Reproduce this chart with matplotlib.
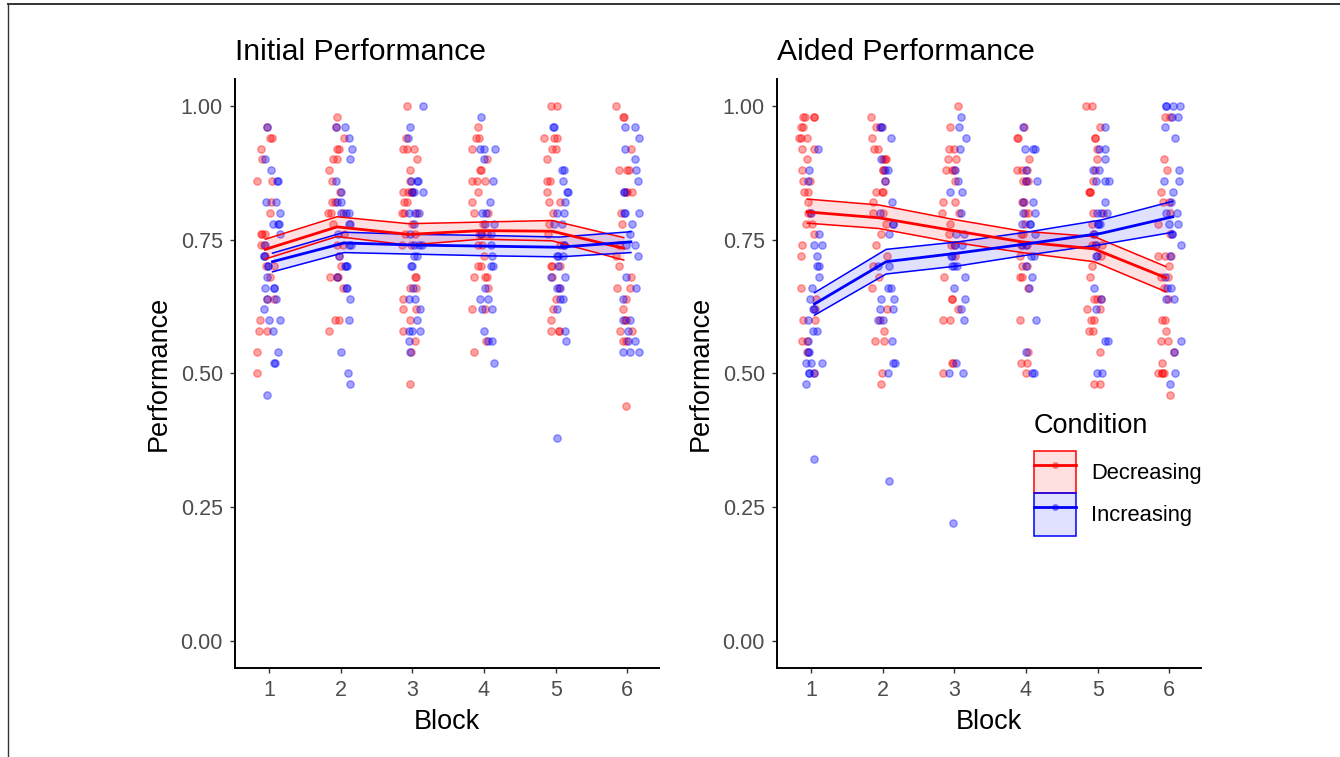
import numpy as np
import matplotlib
matplotlib.use('Agg')
import matplotlib.pyplot as plt
from matplotlib.patches import Patch
from matplotlib.lines import Line2D
from matplotlib.legend_handler import HandlerTuple

plt.rcParams['font.family'] = ['Liberation Sans', 'DejaVu Sans']

blocks = [1, 2, 3, 4, 5, 6]
conditions = ['Decreasing', 'Increasing']
colors = {'Decreasing': '#FF0000', 'Increasing': '#0000FF'}

# individual scores per block
init_dec = [
    [.96, .94, .94, .92, .90, .86, .86, .82, .80, .76, .76, .76, .74, .74, .72, .70, .70, .68, .64, .64, .60, .58, .58, .54, .50],
    [.98, .96, .94, .92, .92, .90, .90, .88, .86, .84, .82, .82, .80, .80, .80, .78, .76, .74, .74, .72, .70, .68, .68, .68, .66, .60, .60, .58],
    [1.0, .94, .92, .92, .92, .90, .88, .86, .84, .84, .84, .84, .82, .82, .80, .80, .80, .78, .76, .76, .74, .74, .68, .68, .66, .66, .64, .62, .62, .60, .58, .56, .54, .48],
    [.96, .94, .94, .92, .90, .88, .88, .86, .86, .86, .84, .82, .80, .80, .78, .76, .76, .76, .74, .74, .72, .70, .70, .68, .68, .68, .66, .62, .62, .56, .54],
    [1.0, 1.0, .94, .94, .94, .92, .92, .90, .86, .86, .84, .82, .82, .80, .78, .76, .74, .70, .70, .70, .68, .66, .64, .62, .60, .58, .58, .58],
    [1.0, .98, .98, .92, .88, .88, .88, .84, .84, .84, .80, .78, .74, .72, .70, .68, .66, .66, .64, .62, .60, .60, .58, .58, .56, .56, .44],
]
init_inc = [
    [.96, .90, .88, .86, .86, .82, .82, .80, .78, .78, .78, .76, .74, .72, .72, .70, .70, .68, .66, .66, .66, .64, .64, .62, .60, .60, .58, .54, .52, .52, .46],
    [.96, .96, .94, .92, .90, .86, .84, .82, .82, .80, .80, .80, .78, .78, .76, .74, .74, .72, .70, .70, .70, .68, .66, .66, .64, .60, .54, .50, .48],
    [1.0, .96, .94, .86, .86, .86, .84, .84, .84, .80, .80, .80, .78, .76, .74, .74, .74, .72, .72, .70, .70, .66, .64, .64, .62, .60, .58, .58, .58, .56, .54],
    [.98, .92, .92, .92, .90, .86, .82, .80, .80, .78, .78, .76, .76, .74, .72, .70, .70, .66, .64, .64, .62, .62, .58, .56, .56, .52],
    [.96, .96, .88, .88, .86, .84, .84, .82, .80, .80, .78, .78, .74, .74, .72, .72, .72, .70, .68, .68, .66, .66, .64, .64, .62, .58, .56, .38],
    [.96, .96, .94, .92, .90, .88, .86, .84, .84, .80, .80, .80, .78, .76, .74, .74, .72, .68, .66, .64, .60, .60, .58, .56, .56, .54, .54, .54],
]
aided_dec = [
    [.98, .98, .98, .98, .96, .96, .94, .94, .94, .92, .92, .90, .88, .86, .86, .84, .84, .82, .80, .80, .78, .78, .76, .74, .72, .66, .64, .62, .60, .60, .56, .56, .54, .50],
    [.98, .96, .96, .94, .92, .92, .90, .90, .90, .88, .88, .86, .84, .84, .84, .82, .80, .80, .78, .76, .74, .72, .70, .68, .66, .62, .60, .58, .56, .56, .50, .48],
    [1.0, .96, .92, .92, .90, .90, .88, .88, .88, .86, .82, .82, .80, .80, .78, .76, .74, .74, .72, .68, .64, .64, .62, .60, .60, .52, .52, .50],
    [.96, .94, .94, .90, .88, .88, .88, .86, .86, .86, .82, .82, .80, .80, .78, .76, .76, .74, .74, .72, .70, .70, .68, .68, .66, .60, .54, .52, .52, .50],
    [1.0, 1.0, .96, .94, .94, .92, .90, .88, .86, .84, .84, .84, .80, .80, .78, .76, .74, .74, .74, .72, .70, .68, .64, .64, .64, .62, .62, .60, .60, .58, .58, .54, .48, .48],
    [.98, .98, .90, .88, .84, .82, .82, .80, .78, .76, .72, .72, .72, .70, .68, .68, .66, .64, .60, .60, .58, .56, .56, .54, .52, .50, .50, .50, .50, .46],
]
aided_inc = [
    [.92, .88, .86, .80, .76, .74, .74, .72, .70, .70, .68, .66, .64, .62, .62, .60, .58, .58, .56, .54, .54, .52, .52, .52, .50, .50, .50, .48, .34],
    [.96, .96, .94, .90, .88, .88, .86, .82, .80, .78, .78, .76, .70, .70, .66, .66, .64, .64, .62, .62, .60, .60, .56, .52, .52, .50, .30],
    [.98, .96, .94, .92, .88, .86, .84, .84, .80, .76, .76, .74, .74, .72, .72, .70, .70, .70, .68, .66, .64, .62, .60, .52, .50, .50, .22],
    [.96, .92, .92, .92, .88, .86, .86, .82, .82, .80, .80, .78, .78, .78, .76, .74, .74, .72, .72, .70, .68, .66, .60, .54, .50, .50],
    [.96, .92, .92, .90, .88, .88, .86, .86, .86, .82, .80, .80, .80, .78, .78, .78, .76, .74, .72, .72, .66, .64, .62, .56, .56, .50, .50],
    [1.0, 1.0, 1.0, 1.0, .98, .98, .96, .94, .88, .86, .86, .84, .82, .80, .80, .78, .78, .76, .76, .74, .72, .68, .66, .66, .64, .64, .56, .54, .50, .48],
]

# mean line and ribbon bounds per block
init_dec_mean = [0.732, 0.774, 0.760, 0.767, 0.766, 0.734]
init_dec_lo = [0.714, 0.756, 0.740, 0.751, 0.748, 0.712]
init_dec_hi = [0.751, 0.793, 0.780, 0.783, 0.786, 0.754]
init_inc_mean = [0.709, 0.744, 0.740, 0.738, 0.736, 0.746]
init_inc_lo = [0.690, 0.726, 0.723, 0.720, 0.718, 0.726]
init_inc_hi = [0.725, 0.764, 0.760, 0.758, 0.755, 0.765]

aided_dec_mean = [0.802, 0.791, 0.768, 0.746, 0.733, 0.679]
aided_dec_lo = [0.781, 0.771, 0.746, 0.726, 0.709, 0.653]
aided_dec_hi = [0.826, 0.815, 0.789, 0.766, 0.756, 0.700]
aided_inc_mean = [0.630, 0.709, 0.725, 0.743, 0.762, 0.793]
aided_inc_lo = [0.609, 0.686, 0.701, 0.722, 0.741, 0.764]
aided_inc_hi = [0.651, 0.732, 0.746, 0.765, 0.787, 0.822]

panels = [
    ('Initial Performance', {'Decreasing': init_dec, 'Increasing': init_inc},
     {'Decreasing': (init_dec_mean, init_dec_lo, init_dec_hi),
      'Increasing': (init_inc_mean, init_inc_lo, init_inc_hi)}),
    ('Aided Performance', {'Decreasing': aided_dec, 'Increasing': aided_inc},
     {'Decreasing': (aided_dec_mean, aided_dec_lo, aided_dec_hi),
      'Increasing': (aided_inc_mean, aided_inc_lo, aided_inc_hi)}),
]

dodge = {'Decreasing': -0.05, 'Increasing': 0.05}
rng = np.random.default_rng(7)  # horizontal jitter only

fig = plt.figure(figsize=(13.4, 7.57), dpi=100)
W, H = 1340, 757
ax_left = [234.7, 776.7]
ax_w = 424.3
ax_bottom, ax_top = 667.75, 79.25

for k, (title, pts, stats) in enumerate(panels):
    ax = fig.add_axes([ax_left[k] / W, 1 - ax_bottom / H, ax_w / W, (ax_bottom - ax_top) / H])
    for cond in conditions:
        c = colors[cond]
        for b, vals in zip(blocks, pts[cond]):
            xs = b + dodge[cond] + rng.uniform(-0.12, 0.12, len(vals))
            ax.scatter(xs, vals, s=28, color=c, alpha=0.36, linewidths=1.0, zorder=2)
    for cond in conditions:
        c = colors[cond]
        m, lo, hi = stats[cond]
        x = np.array(blocks) + dodge[cond]
        ax.fill_between(x, lo, hi, color=c, alpha=0.12, linewidth=0, zorder=3)
        ax.plot(x, lo, color=c, lw=1.1, zorder=4)
        ax.plot(x, hi, color=c, lw=1.1, zorder=4)
        ax.plot(x, m, color=c, lw=2.0, zorder=5)

    ax.set_xlim(0.523, 6.442)
    ax.set_ylim(-0.05, 1.05)
    ax.set_xticks(blocks)
    ax.set_yticks([0, 0.25, 0.5, 0.75, 1.0])
    ax.set_yticklabels(['0.00', '0.25', '0.50', '0.75', '1.00'])
    for s in ['top', 'right']:
        ax.spines[s].set_visible(False)
    for s in ['left', 'bottom']:
        ax.spines[s].set_linewidth(1.4)
    ax.tick_params(length=3.6, width=1.0, color='#333333', labelsize=15.5,
                   labelcolor='#4D4D4D', pad=5)
    ax.set_title(title, loc='left', fontsize=21.7, pad=14)
    ax.set_xlabel('Block', fontsize=19.5, labelpad=6)
    ax.set_ylabel('Performance', fontsize=19.5)
    ax.yaxis.set_label_coords(-0.148, 0.5)

    if k == 1:
        handles = []
        for cond in conditions:
            c = colors[cond]
            patch = Patch(facecolor=matplotlib.colors.to_rgba(c, 0.12), edgecolor=c, linewidth=1.1)
            line = Line2D([], [], color=c, lw=2.0, marker='o', markersize=4,
                          markerfacecolor=matplotlib.colors.to_rgba(c, 0.4),
                          markeredgecolor=matplotlib.colors.to_rgba(c, 0.4))
            handles.append((patch, line))
        fig.legend(handles, conditions, handler_map={tuple: HandlerTuple(ndivide=1)},
                   loc='upper left', bbox_to_anchor=(1034 / W, 1 - 451 / H),
                   frameon=False, fontsize=15.8, borderpad=0, borderaxespad=0,
                   handlelength=1.92, handleheight=2.6, labelspacing=0,
                   handletextpad=0.68)
        fig.text(1034 / W, 1 - 426 / H, 'Condition', fontsize=19.5, va='center', ha='left')

# thin frame around the figure (top and left edges only)
fig.add_artist(Line2D([8 / W, 8 / W], [0, 1 - 4 / H], color='#333333', lw=1.0))
fig.add_artist(Line2D([8 / W, 1], [1 - 4 / H, 1 - 4 / H], color='#333333', lw=1.4))

fig.savefig('out.png', dpi=100)
